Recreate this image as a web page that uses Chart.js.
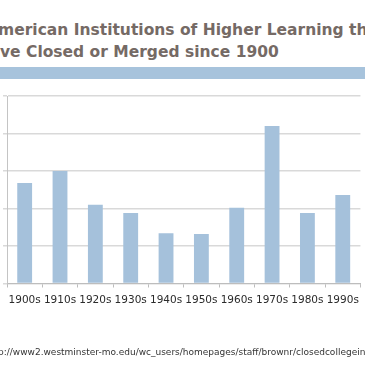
<!DOCTYPE html>
<html>
<head>
<meta charset="utf-8">
<script src="https://cdn.jsdelivr.net/npm/chart.js@4.4.1/dist/chart.umd.min.js"></script>
<style>
  html, body { margin: 0; padding: 0; background: #fff; }
  body { width: 365px; height: 365px; overflow: hidden; position: relative; }
  .title { position: absolute; white-space: nowrap; font-family: "DejaVu Sans", sans-serif; font-weight: bold; font-size: 15.5px; color: #756a65; }
  #band { position: absolute; left: 0; top: 67px; width: 365px; height: 12px; background: #a7c3dc; }
  #src { position: absolute; white-space: nowrap; font-family: "DejaVu Sans", sans-serif; font-size: 9px; color: #333; top: 347px; }
  #wrap { position: absolute; left: 0; top: 0; width: 365px; height: 365px; }
</style>
</head>
<body>
<div class="title" id="t1" style="top:21px">American Institutions of Higher Learning that</div>
<div class="title" id="t2" style="top:43px">Have Closed or Merged since 1900</div>
<div id="band"></div>
<div id="wrap"><canvas id="chart" width="365" height="365"></canvas></div>
<div id="src">http://www2.westminster-mo.edu/wc_users/homepages/staff/brownr/closedcollegeindex.htm</div>
<script>
// data (y labels are cut off in the reference)
const decades = ['1900s', '1910s', '1920s', '1930s', '1940s', '1950s', '1960s', '1970s', '1980s', '1990s'];
const closures = [134, 150, 105, 94, 67, 66, 101, 210, 94, 118];
const yMax = 250;
const yStep = 50;

// hide the cut-off start of the title lines and the url
function shiftLeft(id, hidden, extra) {
    const el = document.getElementById(id);
    const ctx = document.createElement('canvas').getContext('2d');
    const cs = getComputedStyle(el);
    ctx.font = cs.fontWeight + ' ' + cs.fontSize + ' ' + cs.fontFamily;
    el.style.left = (-ctx.measureText(hidden).width + extra) + 'px';
}
shiftLeft('t1', 'A', -2);
shiftLeft('t2', 'Ha', 0);
shiftLeft('src', 'htt', -2);

const ctx = document.getElementById('chart').getContext('2d');
const chart = new Chart(ctx, {
    type: 'bar',
    data: {
        labels: decades,
        datasets: [{
            data: closures,
            backgroundColor: '#a5c1db',
            borderWidth: 0,
            barPercentage: 0.42,
            categoryPercentage: 1
        }]
    },
    options: {
        responsive: false,
        animation: false,
        layout: { padding: { top: 96, right: 3, left: 0, bottom: 0 } },
        plugins: { legend: { display: false }, tooltip: { enabled: false } },
        scales: {
            x: {
                grid: { drawOnChartArea: false, drawTicks: true, tickLength: 4, color: '#bdbdbd' },
                border: { color: '#bdbdbd' },
                ticks: { color: '#2b2b2b', font: { family: 'DejaVu Sans', size: 10.5 }, padding: 6, maxRotation: 0, autoSkip: false },
                afterFit(scale) { scale.height = 81.5; }
            },
            y: {
                min: 0,
                max: yMax,
                grid: { color: '#d9d9d9', lineWidth: 1.5, tickLength: 4 },
                border: { color: '#c4c4c4' },
                ticks: { display: false, stepSize: yStep },
                afterFit(scale) { scale.width = 7; }
            }
        }
    }
});
</script>
</body>
</html>
